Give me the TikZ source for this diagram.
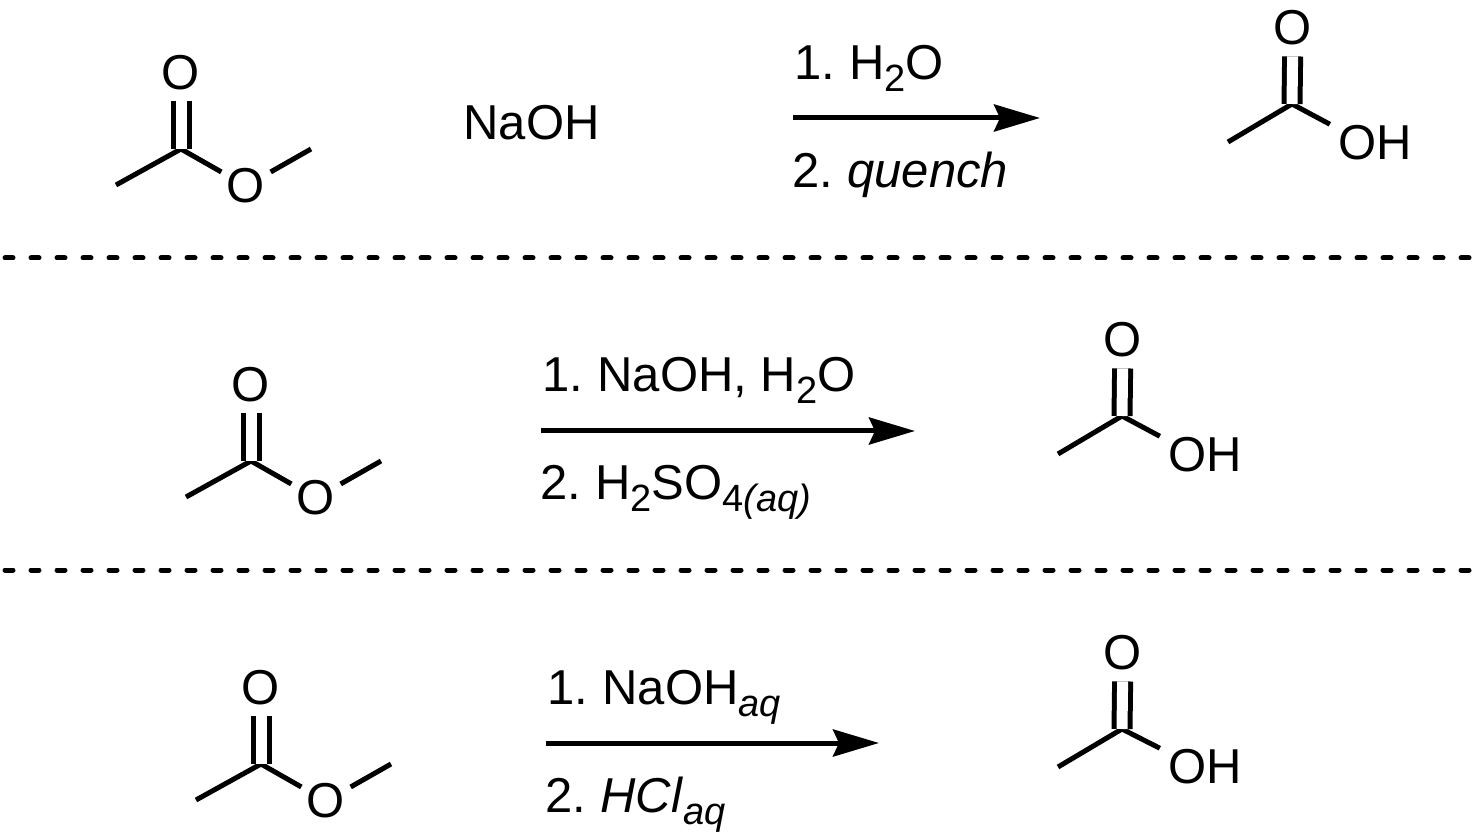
\documentclass[tikz,border=0pt]{standalone}
\usepackage{fontspec}
\setmainfont{Liberation Sans}
\usetikzlibrary{
  arrows.meta
}
\newcommand{\low}[1]{\raisebox{-6pt}{\fontsize{19}{22}\selectfont #1}}
\newcommand{\tight}{\kern-2pt{}}
\tikzset{
  bond/.style={
    line width=2.5pt},
  dbond/.style={
    bond,
    double,
    double distance=5.5pt},
  rule/.style={
    line width=2.5pt,
    line cap=round,
    dash pattern=on 4pt off 9pt},
  rxn/.style={
    line width=2.5pt,
    -{Stealth[length=23pt,width=13.5pt,inset=3pt]}},
  atom/.style={
    circle,
    inner sep=0pt,
    minimum size=28pt,
    font=\fontsize{24.5}{29}\selectfont},
  hydroxyl/.style={
    inner xsep=4pt,
    inner ysep=0.5pt,
    font=\fontsize{24.5}{29}\selectfont},
  reagent/.style={
    anchor=base west,
    inner sep=0pt,
    font=\fontsize{24.5}{29}\selectfont}
  }

\begin{document}
\begin{tikzpicture}[x=0.5pt,y=-0.5pt]
      \useasboundingbox (0,0) rectangle (1473,839);
      % top row
      \coordinate (me1) at (116,185);
      \coordinate (c1) at (181,149);
      \coordinate (mr1) at (311,149);
      \node [atom] (co1) at (181,73) {O};
      \node [atom] (oe1) at (246,186) {O};
      \draw [bond] (me1) to (c1) to (oe1);
      \draw [bond] (oe1) to (mr1);
      \draw [dbond] (c1) to (co1);
      \node [reagent] (base) at (463,140) {NaOH};
      \coordinate (a1l) at (793,118);
      \coordinate (a1r) at (1040,118);
      \draw [rxn] (a1l) to (a1r);
      \node [reagent] (t1) at (794,80) {1.\tight{} H\low{2}O};
      \node [reagent] (b1) at (792,188) {2.\tight{} \textit{quench}};
      \coordinate (pm1) at (1228,142);
      \coordinate (pc1) at (1292,104);
      \node [atom] (po1) at (1293,28) {O};
      \node [hydroxyl] (oh1) at (1375,143) {OH};
      \draw [bond] (pm1) to (pc1) to (oh1.north west);
      \draw [dbond] (pc1) to (po1);
      % dashed rules
      \coordinate (r1l) at (5,258);
      \coordinate (r1r) at (1470,258);
      \coordinate (r2l) at (5,570);
      \coordinate (r2r) at (1470,570);
      \draw [rule] (r1l) to (r1r);
      \draw [rule] (r2l) to (r2r);
      % middle row
      \coordinate (me2) at (186,497);
      \coordinate (c2) at (251,461);
      \coordinate (mr2) at (381,461);
      \node [atom] (co2) at (251,385) {O};
      \node [atom] (oe2) at (316,498) {O};
      \draw [bond] (me2) to (c2) to (oe2);
      \draw [bond] (oe2) to (mr2);
      \draw [dbond] (c2) to (co2);
      \coordinate (a2l) at (541,431);
      \coordinate (a2r) at (915,431);
      \draw [rxn] (a2l) to (a2r);
      \node [reagent] (t2) at (542,392) {1.\tight{} NaOH, H\low{2}O};
      \node [reagent] (b2) at (540,500) {2.\tight{} H\low{2}SO\low{4\textit{(aq)}}};
      \coordinate (pm2) at (1058,454);
      \coordinate (pc2) at (1122,416);
      \node [atom] (po2) at (1123,340) {O};
      \node [hydroxyl] (oh2) at (1205,455) {OH};
      \draw [bond] (pm2) to (pc2) to (oh2.north west);
      \draw [dbond] (pc2) to (po2);
      % bottom row
      \coordinate (me3) at (196,800);
      \coordinate (c3) at (261,764);
      \coordinate (mr3) at (391,764);
      \node [atom] (co3) at (261,688) {O};
      \node [atom] (oe3) at (326,801) {O};
      \draw [bond] (me3) to (c3) to (oe3);
      \draw [bond] (oe3) to (mr3);
      \draw [dbond] (c3) to (co3);
      \coordinate (a3l) at (546,743);
      \coordinate (a3r) at (879,743);
      \draw [rxn] (a3l) to (a3r);
      \node [reagent] (t3) at (547,704) {1.\tight{} NaOH\low{\textit{aq}}};
      \node [reagent] (b3) at (545,812) {2.\tight{} \textit{HCl}\low{\textit{aq}}};
      \coordinate (pm3) at (1058,767);
      \coordinate (pc3) at (1122,729);
      \node [atom] (po3) at (1123,653) {O};
      \node [hydroxyl] (oh3) at (1205,767) {OH};
      \draw [bond] (pm3) to (pc3) to (oh3.north west);
      \draw [dbond] (pc3) to (po3);
    \end{tikzpicture}
\end{document}
